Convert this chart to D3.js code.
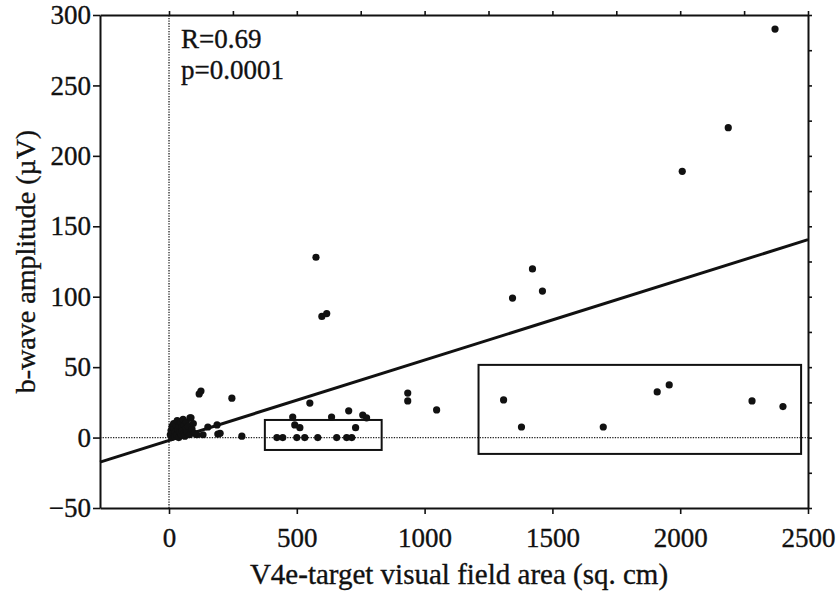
<!DOCTYPE html>
<html>
<head>
<meta charset="utf-8">
<script src="https://cdn.jsdelivr.net/npm/d3@7"></script>
<style>
  body { margin: 0; background: #fff; }
  svg text { font-family: "Liberation Serif", "Times New Roman", serif; fill: #111; stroke: #111; stroke-width: 0.35px; }
</style>
</head>
<body>
<script>
// data
const areaX = [
  5, 8, 10, 12, 15, 18, 20, 22, 25, 28, 30, 32, 35, 38, 40, 42, 45, 48, 50, 52,
  55, 58, 60, 62, 65, 68, 70, 75, 80, 82, 86, 90, 95, 100, 109, 118, 125, 133, 152, 188,
  191, 200, 246, 285,
  422, 445, 484, 492, 500, 512, 531, 551, 582, 598, 617, 636, 656, 575, 695, 703,
  715, 730, 758, 773, 934, 934, 1047,
  1309, 1344, 1379, 1422, 1461, 1699, 1910, 1957, 2008, 2188, 2281, 2371, 2402
];
const ampY = [
  2, 5, 0, 8, 3, 10, 6, 1, 4, 9, 2, 12, 6, 0, 8, 4, 11, 2, 7, 5,
  13, 3, 9, 1, 6, 11, 4, 8, 2, 14, 14, 6, 10, 3, 2, 31, 33, 2, 7.5, 9,
  2.5, 3, 28, 1,
  0, 0, 14.6, 9, 0, 7, 0, 24.5, 0, 86, 88, 14.6, 0, 128, 0, 19,
  0, 7, 16, 14, 31.6, 26, 19.6,
  26.7, 99, 7.5, 119.7, 104, 7.5, 32.4, 37.4, 189, 220, 26, 290, 22
];
const xTicks = [0, 500, 1000, 1500, 2000, 2500];
const yTicks = [-50, 0, 50, 100, 150, 200, 250, 300];
// regression line
const fitIntercept = -2;
const fitSlope = 0.057;
// highlighted groups [x0, x1, y0, y1]
const boxes = [[375, 832, -8.8, 12.5], [1211, 2473, -11.6, 51.6]];
const stats = ["R=0.69", "p=0.0001"];

const W = 839, H = 595;
const m = { left: 100, right: 31, top: 15, bottom: 87 };

const svg = d3.select("body").append("svg")
  .attr("width", W).attr("height", H);

const x = d3.scaleLinear().domain([-270, 2500]).range([m.left, W - m.right]);
const y = d3.scaleLinear().domain([-50, 300]).range([H - m.bottom, m.top]);

// zero reference lines
svg.append("line")
  .attr("x1", x(0)).attr("x2", x(0))
  .attr("y1", y(-50)).attr("y2", y(300))
  .attr("stroke", "#222").attr("stroke-width", 1.3).attr("stroke-dasharray", "1.3,1.3");
svg.append("line")
  .attr("x1", x(-270)).attr("x2", x(2500))
  .attr("y1", y(0)).attr("y2", y(0))
  .attr("stroke", "#222").attr("stroke-width", 1.3).attr("stroke-dasharray", "1.3,1.3");

// boxes
svg.selectAll("rect.grp").data(boxes).enter().append("rect")
  .attr("class", "grp")
  .attr("x", d => x(d[0]))
  .attr("y", d => y(d[3]))
  .attr("width", d => x(d[1]) - x(d[0]))
  .attr("height", d => y(d[2]) - y(d[3]))
  .attr("fill", "none").attr("stroke", "#111").attr("stroke-width", 2);

// fit line
svg.append("line")
  .attr("x1", x(-270)).attr("y1", y(fitIntercept + fitSlope * -270))
  .attr("x2", x(2500)).attr("y2", y(fitIntercept + fitSlope * 2500))
  .attr("stroke", "#111").attr("stroke-width", 3);

// points
svg.selectAll("circle").data(areaX).enter().append("circle")
  .attr("cx", d => x(d))
  .attr("cy", (d, i) => y(ampY[i]))
  .attr("r", 3.6)
  .attr("fill", "#111");

// axes
const gBottom = svg.append("g").attr("transform", `translate(0,${y(-50)})`);
gBottom.call(d3.axisBottom(x).tickValues(d3.range(0, 2501, 250)).tickSize(4).tickFormat(""));
gBottom.call(d3.axisBottom(x).tickValues(xTicks).tickSize(6).tickSizeOuter(0)
  .tickFormat(d3.format("d")).tickPadding(14));

const gLeft = svg.append("g").attr("transform", `translate(${x(-270)},0)`);
gLeft.call(d3.axisLeft(y).tickValues(d3.range(-50, 301, 25)).tickSize(4).tickFormat(""));
gLeft.call(d3.axisLeft(y).tickValues(yTicks).tickSize(7).tickSizeOuter(0)
  .tickFormat(d3.format("d")).tickPadding(2));

const gTop = svg.append("g").attr("transform", `translate(0,${y(300)})`);
gTop.call(d3.axisTop(x).tickValues(d3.range(0, 2501, 250)).tickSize(4).tickSizeOuter(0).tickFormat(""));

const gRight = svg.append("g").attr("transform", `translate(${x(2500)},0)`);
gRight.call(d3.axisRight(y).tickValues(d3.range(-50, 301, 25)).tickSize(4).tickSizeOuter(0).tickFormat(""));

svg.selectAll(".domain").attr("stroke", "#111").attr("stroke-width", 2);
svg.selectAll(".tick line").attr("stroke", "#111").attr("stroke-width", 1.6);
svg.selectAll(".tick text")
  .attr("font-family", "Liberation Serif, serif")
  .attr("font-size", 27).attr("fill", "#111");

// stats text
svg.selectAll("text.stat").data(stats).enter().append("text")
  .attr("class", "stat")
  .attr("x", x(0) + 12)
  .attr("y", (d, i) => 48 + i * 31)
  .attr("font-size", 27)
  .text(d => d);

// axis titles
svg.append("text")
  .attr("x", 459).attr("y", 584)
  .attr("text-anchor", "middle")
  .attr("font-size", 29)
  .text("V4e-target visual field area (sq. cm)");

svg.append("text")
  .attr("transform", `translate(35,${y(125)}) rotate(-90)`)
  .attr("text-anchor", "middle")
  .attr("font-size", 28)
  .text("b-wave amplitude (µV)");
</script>
</body>
</html>
